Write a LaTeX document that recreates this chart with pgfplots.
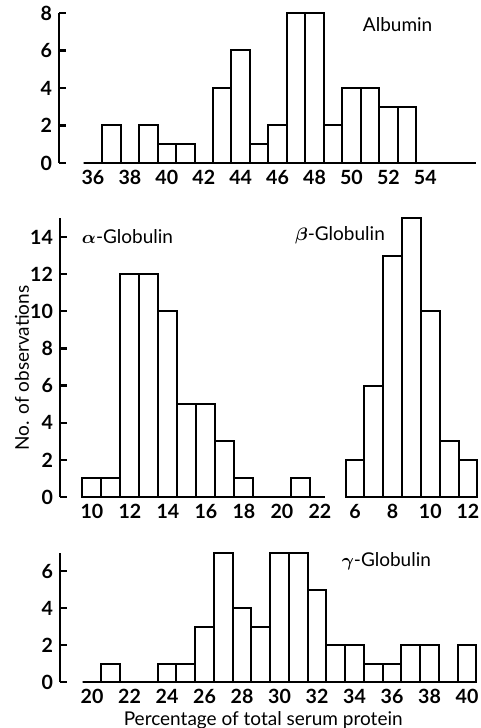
\documentclass[border=0pt]{standalone}
\usepackage{fontspec}
\setmainfont{Lato}
\usepackage{amsmath}
\usepackage{pgfplots}
\pgfplotsset{compat=1.18}

\tikzset{panel/.style={font=\fontsize{9.5}{11}\selectfont}}
\pgfplotsset{
  hist/.style={
    scale only axis,
    anchor=south west,
    clip=false,
    axis x line=bottom,
    axis y line=left,
    axis line style={-, line width=1.3pt},
    x axis line style={draw=none},
    xtick style={draw=none},
    ytick style={line width=1.1pt, black},
    tick align=inside,
    major tick length=3.5pt,
    ymin=0,
    tick label style={font=\fontsize{9.8}{11}\selectfont\bfseries},
    /pgf/number format/assume math mode=true,
    xlabel style={font=\fontsize{9.5}{11}\selectfont},
  },
  bars/.style={ybar, bar width=1, bar shift=0, draw=black, fill=white, line width=1pt},
  base/.style={black, line width=1pt, no markers},
}

\begin{document}
\begin{tikzpicture}
\useasboundingbox (0,0) rectangle (240.5pt,364pt);

% Albumin
\begin{axis}[hist, at={(29.5pt,282.5pt)}, width=209pt, height=75pt,
  xmin=34.16, xmax=56.8, ymax=8,
  xtick={36,38,...,54}, ytick={0,2,...,8}]
\addplot[bars] coordinates {(36,0) (37,2) (38,0) (39,2) (40,1) (41,1) (42,0)
  (43,4) (44,6) (45,1) (46,2) (47,8) (48,8) (49,2) (50,4) (51,4) (52,3) (53,3)};
\addplot[base] coordinates {(35.5,0) (56.75,0)};
\node[panel] at (axis cs:52.5,7.36) {Albumin};
\end{axis}

% alpha-Globulin
\begin{axis}[hist, at={(30pt,115.5pt)}, width=132.8pt, height=139.3pt,
  xmin=8.32, xmax=22.3, ymax=15,
  xtick={10,12,...,22}, ytick={0,2,...,14}]
\addplot[bars] coordinates {(10,1) (11,1) (12,12) (13,12) (14,10) (15,5)
  (16,5) (17,3) (18,1) (19,0) (20,0) (21,1)};
\addplot[base] coordinates {(9.5,0) (22.26,0)};
\node[panel] at (axis cs:11.87,14.02) {$\boldsymbol{\alpha}$-Globulin};
\end{axis}

% beta-Globulin
\begin{axis}[hist, at={(172.8pt,115.5pt)}, width=65.9pt, height=139.3pt,
  axis y line=none, ytick=\empty,
  xmin=5.5, xmax=12.5, ymax=15,
  xtick={6,8,10,12}]
\addplot[bars] coordinates {(6,2) (7,6) (8,13) (9,15) (10,10) (11,3) (12,2)};
\addplot[base] coordinates {(5.5,0) (12.5,0)};
\node[panel] at (axis cs:5.2,14.1) {$\boldsymbol{\beta}$-Globulin};
\end{axis}

% gamma-Globulin
\begin{axis}[hist, at={(30pt,23pt)}, width=208.2pt, height=64.75pt,
  xmin=18.29, xmax=40.5, ymax=7,
  xtick={20,22,...,40}, ytick={0,2,4,6},
  xlabel={Percentage of total serum protein},
  xlabel style={yshift=3pt, xshift=-2.5pt}]
\addplot[bars] coordinates {(20,0) (21,1) (22,0) (23,0) (24,1) (25,1) (26,3)
  (27,7) (28,4) (29,3) (30,7) (31,7) (32,5) (33,2) (34,2) (35,1) (36,1)
  (37,2) (38,2) (39,0) (40,2)};
\addplot[base] coordinates {(19.5,0) (40.5,0)};
\node[panel] at (axis cs:35.7,6.5) {$\boldsymbol{\gamma}$-Globulin};
\end{axis}

\node[rotate=90, panel] at (11pt,180pt) {No. of observations};
\end{tikzpicture}
\end{document}
